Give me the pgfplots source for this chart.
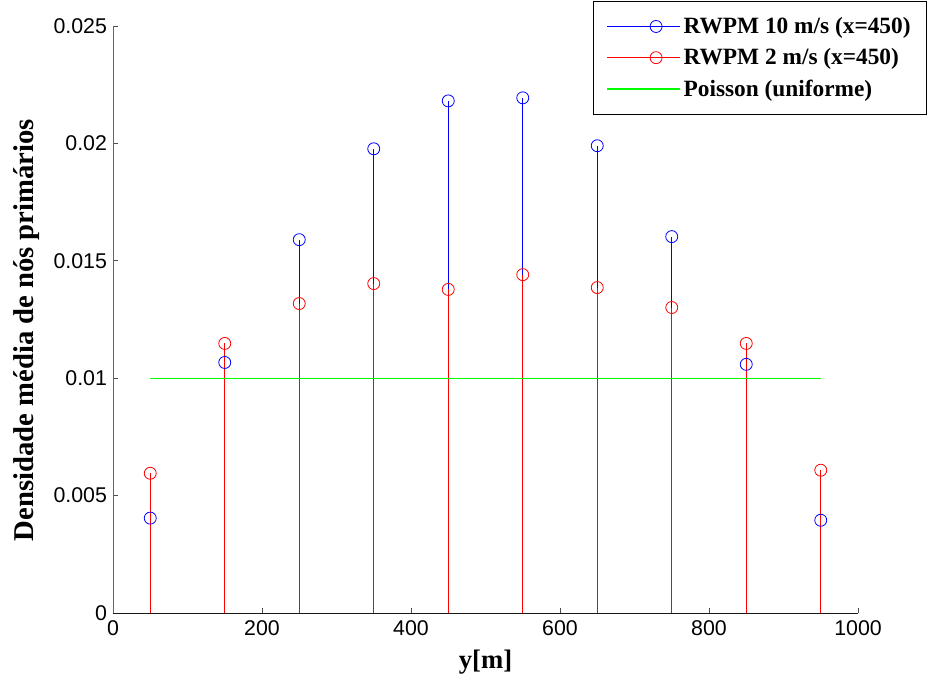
\documentclass[border=0pt]{standalone}
\usepackage{fontspec}
\setmainfont{Liberation Serif}
\newfontfamily\arial{Liberation Sans}
\usepackage{pgfplots}
\pgfplotsset{compat=1.18}
\newcommand{\lgdfont}{\bfseries\fontsize{17.5}{20}\selectfont}
\pgfplotsset{
  stemlegend/.style={legend image code/.code={\path (0pt,0pt) -- (55pt,0pt);
    \draw[##1, sharp plot, mark indices={2}] plot coordinates {(0pt,0pt) (36.75pt,0pt)};}},
  linelegend/.style={legend image code/.code={\path (0pt,0pt) -- (55pt,0pt);
    \draw[##1] (0pt,0pt) -- (36.75pt,0pt);}},
}
\begin{document}
\begin{tikzpicture}
\path[use as bounding box] (0,0) rectangle (696pt,510pt);
\begin{axis}[
  at={(84.75pt,50.25pt)}, anchor=south west,
  scale only axis, width=558.75pt, height=440.25pt,
  xmin=0, xmax=1000, ymin=0, ymax=0.025,
  axis x line=bottom, axis y line=left,
  x axis line style={-, black!90, line width=0.6pt},
  y axis line style={-, black!60, line width=0.6pt},
  tick align=inside, major tick length=4pt,
  tick style={black!70, line width=0.6pt},
  scaled y ticks=false, scaled x ticks=false,
  xtick={0,200,400,600,800,1000}, xticklabels={0,200,400,600,800,1000},
  ytick={0,0.005,0.01,0.015,0.02,0.025}, yticklabels={0,0.005,0.01,0.015,0.02,0.025},
  ticklabel style={font=\arial\fontsize{16}{18}\selectfont},
  xticklabel style={yshift=-2pt},
  yticklabel style={xshift=-1pt},
  xlabel={y[m]}, ylabel={Densidade média de nós primários},
  every axis x label/.style={at={(axis description cs:0.5,-0.0954)}, anchor=base, font=\bfseries\fontsize{20}{23}\selectfont},
  every axis y label/.style={at={(axis description cs:-0.107,0.482)}, rotate=90, anchor=base, font=\bfseries\fontsize{21.5}{24}\selectfont},
  legend style={at={(axis description cs:1.0926,1.0426)}, anchor=north east,
    font=\lgdfont, draw=black, line width=0.6pt, inner xsep=10pt, inner ysep=10pt, row sep=5.75pt,
    nodes={inner sep=2pt}},
  legend cell align=left,
]
\addplot[ycomb, draw=blue, line width=0.8pt, mark=o, mark size=4.5pt, mark options={draw=blue, line width=0.6pt}, stemlegend]
coordinates {(50,0.00404) (150,0.01067) (250,0.0159) (350,0.01977) (450,0.02181)
 (550,0.02194) (650,0.0199) (750,0.01603) (850,0.01059) (950,0.00395)};
\addlegendentry{RWPM 10 m/s (x=450)}
\addplot[ycomb, draw=red, line width=0.8pt, mark=o, mark size=4.5pt, mark options={draw=red, line width=0.6pt}, stemlegend]
coordinates {(50,0.00595) (150,0.01148) (250,0.01318) (350,0.01403) (450,0.01378)
 (550,0.01441) (650,0.01386) (750,0.01301) (850,0.01148) (950,0.00608)};
\addlegendentry{RWPM 2 m/s (x=450)}
\addplot[draw=green, line width=0.8pt, mark=none, linelegend]
coordinates {(50,0.01) (950,0.01)};
\addlegendentry{Poisson (uniforme)}
\end{axis}
\end{tikzpicture}
\end{document}
